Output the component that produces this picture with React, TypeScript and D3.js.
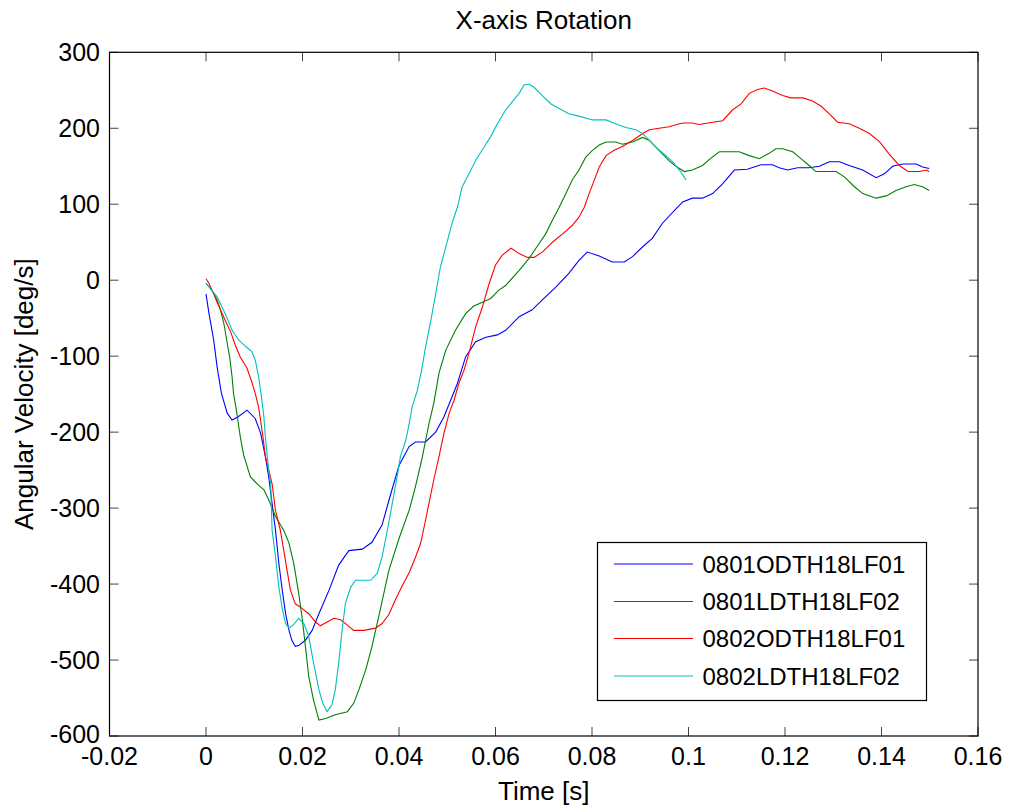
import React from "react";
import * as d3 from "d3";

type Pt = [number, number];

const title = "X-axis Rotation";
const xLabel = "Time [s]";
const yLabel = "Angular Velocity [deg/s]";
const xTicks = [-0.02, 0, 0.02, 0.04, 0.06, 0.08, 0.1, 0.12, 0.14, 0.16];
const yTicks = [-600, -500, -400, -300, -200, -100, 0, 100, 200, 300];
const seriesNames = ["0801ODTH18LF01", "0801LDTH18LF02", "0802ODTH18LF01", "0802LDTH18LF02"];
const seriesColors = ["#0000ff", "#008000", "#ff0000", "#00bfbf"];

const s0801O: Pt[] = [
  [0, -18], [0.0006, -43], [0.0016, -79], [0.0023, -114], [0.0032, -149], [0.0044, -175], [0.0054, -184],
  [0.0066, -180], [0.0085, -171], [0.0102, -182], [0.0113, -201], [0.0123, -232], [0.013, -259], [0.0137, -294],
  [0.0144, -329], [0.0151, -373], [0.0158, -408], [0.0165, -439], [0.0172, -461], [0.0178, -474], [0.0185, -482],
  [0.0192, -481], [0.0206, -474], [0.022, -461], [0.0234, -439], [0.0255, -408], [0.0275, -375], [0.0296, -356],
  [0.0324, -354], [0.0344, -345], [0.0365, -322], [0.0379, -290], [0.04, -244], [0.0421, -219], [0.0434, -213],
  [0.0455, -213], [0.0476, -200], [0.0493, -180], [0.0507, -158], [0.0521, -136], [0.0538, -101], [0.0559, -81],
  [0.058, -75], [0.0604, -72], [0.0621, -66], [0.0649, -48], [0.0676, -39], [0.0697, -26], [0.0725, -9],
  [0.0752, 9], [0.0773, 26], [0.079, 37], [0.0815, 32], [0.0842, 24], [0.0867, 24], [0.0884, 31], [0.0905, 44],
  [0.0925, 55], [0.0946, 75], [0.0974, 94], [0.0988, 103], [0.1008, 108], [0.1029, 108], [0.105, 114],
  [0.1071, 127], [0.1095, 145], [0.1122, 146], [0.115, 152], [0.1174, 152], [0.1188, 148], [0.1205, 145],
  [0.1226, 148], [0.125, 148], [0.1271, 150], [0.1292, 156], [0.1313, 156], [0.1333, 151], [0.1361, 145],
  [0.1389, 135], [0.1406, 140], [0.1423, 150], [0.1444, 153], [0.1472, 153], [0.1485, 149], [0.1499, 147],
];

const s0801L: Pt[] = [
  [0, -4], [0.0012, -13], [0.0023, -26], [0.003, -39], [0.0037, -57], [0.0044, -83], [0.0049, -101],
  [0.0054, -127], [0.0057, -149], [0.0062, -167], [0.0066, -184], [0.0071, -206], [0.0078, -230], [0.0092, -259],
  [0.0106, -268], [0.012, -276], [0.013, -289], [0.0144, -311], [0.0161, -329], [0.0172, -346], [0.0182, -373],
  [0.0192, -412], [0.0199, -443], [0.0206, -482], [0.0213, -522], [0.0223, -553], [0.0234, -579], [0.0248, -577],
  [0.0268, -572], [0.0293, -568], [0.0306, -557], [0.0317, -539], [0.0331, -513], [0.0344, -482], [0.0358, -443],
  [0.0379, -382], [0.04, -340], [0.0421, -303], [0.0434, -272], [0.0448, -234], [0.0462, -189], [0.0472, -162],
  [0.0483, -122], [0.0497, -92], [0.0517, -66], [0.0538, -44], [0.0555, -34], [0.0573, -29], [0.059, -24],
  [0.0607, -13], [0.0621, -7], [0.0649, 13], [0.067, 29], [0.069, 48], [0.0704, 61], [0.0718, 79], [0.0732, 96],
  [0.0746, 114], [0.0759, 132], [0.0773, 145], [0.0787, 162], [0.0801, 171], [0.0815, 178], [0.0829, 182],
  [0.0849, 182], [0.0863, 179], [0.0884, 182], [0.0905, 188], [0.0919, 184], [0.0939, 171], [0.096, 157],
  [0.0974, 150], [0.0991, 143], [0.1008, 145], [0.1029, 151], [0.1047, 161], [0.1064, 169], [0.1105, 169],
  [0.1126, 164], [0.1147, 160], [0.1167, 167], [0.1181, 173], [0.1195, 173], [0.1216, 169], [0.1233, 160],
  [0.125, 151], [0.1264, 143], [0.1306, 143], [0.1323, 136], [0.1344, 123], [0.1361, 114], [0.1389, 108],
  [0.141, 111], [0.143, 118], [0.1451, 123], [0.1468, 126], [0.1485, 123], [0.1499, 118],
];

const s0802O: Pt[] = [
  [0, 2], [0.0006, -4], [0.0016, -18], [0.0023, -29], [0.003, -39], [0.004, -53], [0.0051, -68], [0.0061, -86],
  [0.0071, -101], [0.0085, -116], [0.0095, -134], [0.0102, -149], [0.0109, -167], [0.0113, -184], [0.0118, -206],
  [0.0123, -232], [0.013, -250], [0.0137, -268], [0.0144, -303], [0.0154, -329], [0.0161, -355], [0.0168, -382],
  [0.0175, -408], [0.0185, -426], [0.0199, -432], [0.0213, -439], [0.0227, -450], [0.0237, -455], [0.0251, -450],
  [0.0265, -445], [0.0279, -447], [0.0293, -454], [0.0306, -461], [0.0327, -461], [0.0351, -458], [0.0365, -452],
  [0.0379, -440], [0.0393, -420], [0.0407, -402], [0.0421, -385], [0.0434, -365], [0.0445, -346], [0.0455, -316],
  [0.0462, -294], [0.0472, -263], [0.0483, -232], [0.0493, -202], [0.0504, -175], [0.0514, -158], [0.0524, -136],
  [0.0535, -118], [0.0545, -96], [0.0559, -61], [0.0573, -35], [0.0587, -4], [0.06, 20], [0.0614, 33],
  [0.0632, 42], [0.0649, 35], [0.0666, 30], [0.068, 30], [0.0697, 37], [0.0718, 50], [0.0739, 61], [0.0759, 72],
  [0.0773, 83], [0.0784, 96], [0.0794, 114], [0.0805, 132], [0.0815, 149], [0.0829, 164], [0.0846, 171],
  [0.0863, 176], [0.0884, 184], [0.0905, 193], [0.0919, 198], [0.0939, 200], [0.096, 202], [0.0981, 206],
  [0.0991, 207], [0.1008, 207], [0.1022, 205], [0.105, 208], [0.1071, 210], [0.1091, 224], [0.1109, 232],
  [0.1126, 246], [0.1143, 251], [0.1157, 253], [0.1174, 249], [0.1195, 243], [0.1212, 240], [0.1237, 240],
  [0.1257, 236], [0.1275, 229], [0.1292, 219], [0.1309, 208], [0.1333, 206], [0.1354, 200], [0.1375, 193],
  [0.1396, 182], [0.1416, 166], [0.1437, 151], [0.1455, 143], [0.1479, 143], [0.1493, 145], [0.1499, 143],
];

const s0802L: Pt[] = [
  [0, -4], [0.0009, -11], [0.0023, -22], [0.0033, -35], [0.0044, -50], [0.0054, -66], [0.0068, -79],
  [0.0082, -87], [0.0095, -94], [0.0102, -105], [0.0109, -127], [0.0115, -154], [0.012, -180], [0.0123, -206],
  [0.0127, -232], [0.013, -250], [0.0134, -268], [0.0137, -329], [0.0144, -364], [0.0151, -404], [0.0158, -432],
  [0.0165, -452], [0.0172, -458], [0.0182, -453], [0.0192, -445], [0.0203, -452], [0.0213, -469], [0.0223, -504],
  [0.0234, -539], [0.0242, -557], [0.0251, -568], [0.0261, -559], [0.0268, -539], [0.0275, -504], [0.0282, -461],
  [0.0289, -425], [0.03, -404], [0.031, -395], [0.0341, -395], [0.0355, -386], [0.0365, -364], [0.0376, -329],
  [0.0386, -294], [0.0396, -259], [0.0403, -232], [0.0414, -211], [0.0421, -189], [0.0427, -167], [0.0438, -145],
  [0.0447, -118], [0.0455, -88], [0.0466, -53], [0.0476, -18], [0.0486, 18], [0.0497, 44], [0.051, 75],
  [0.0521, 96], [0.0531, 123], [0.0545, 140], [0.0559, 158], [0.0576, 175], [0.059, 189], [0.0604, 206],
  [0.0621, 224], [0.0635, 235], [0.0649, 246], [0.0659, 257], [0.067, 258], [0.068, 254], [0.0697, 243],
  [0.0715, 232], [0.0732, 226], [0.0752, 219], [0.0773, 216], [0.0801, 211], [0.0829, 211], [0.0849, 206],
  [0.087, 201], [0.0891, 198], [0.0905, 193], [0.0919, 184], [0.0936, 173], [0.0953, 164], [0.0967, 156],
  [0.0981, 145], [0.0995, 132],
];

const seriesData = [s0801O, s0801L, s0802O, s0802L];

const W = 1012;
const H = 810;
const FONT = "Arial, 'Liberation Sans', Helvetica, sans-serif";

export default function App() {
  const x = d3.scaleLinear().domain([-0.02, 0.16]).range([109.5, 978]);
  const y = d3.scaleLinear().domain([-600, 300]).range([736, 52.3]);
  const line = d3
    .line<Pt>()
    .x((d) => x(d[0]))
    .y((d) => y(d[1]));
  const [x0, x1] = x.range();
  const [y0, y1] = y.range();
  const tick = 9;
  const fs = 25;
  const lblFs = 26;
  const lfs = 24;
  const leg = { x: 597.5, y: 542.5, w: 329, h: 158 };
  const rowY = [564, 601.5, 638.5, 676];

  return (
    <svg
      width={W}
      height={H}
      style={{ position: "absolute", left: 0, top: 0, background: "#fff" }}
      fontFamily={FONT}
    >
      <rect x={0} y={0} width={W} height={H} fill="#fff" />
      <defs>
        <clipPath id="plotclip">
          <rect x={x0} y={y1} width={x1 - x0} height={y0 - y1} />
        </clipPath>
      </defs>
      <g clipPath="url(#plotclip)">
        {seriesData.map((d, i) => (
          <path key={i} d={line(d) || ""} fill="none" stroke={seriesColors[i]} strokeWidth={1.1} />
        ))}
      </g>
      {xTicks.map((t, i) => (
        <g key={"xt" + i}>
          <line x1={x(t)} x2={x(t)} y1={y0} y2={y0 - tick} stroke="#444" strokeWidth={1} />
          <line x1={x(t)} x2={x(t)} y1={y1} y2={y1 + tick} stroke="#444" strokeWidth={1} />
          <text x={x(t)} y={765} textAnchor="middle" fontSize={fs} fill="#000">
            {t === 0 ? "0" : String(t)}
          </text>
        </g>
      ))}
      {yTicks.map((t, i) => (
        <g key={"yt" + i}>
          <line x1={x0} x2={x0 + tick} y1={y(t)} y2={y(t)} stroke="#444" strokeWidth={1} />
          <line x1={x1} x2={x1 - tick} y1={y(t)} y2={y(t)} stroke="#444" strokeWidth={1} />
          <text x={100} y={y(t) - (t === -600 ? 2 : 0)} dy="0.36em" textAnchor="end" fontSize={fs} fill="#000">
            {String(t)}
          </text>
        </g>
      ))}
      <rect x={x0} y={y1} width={x1 - x0} height={y0 - y1} fill="none" stroke="#000" strokeWidth={1.2} />
      <text x={(x0 + x1) / 2} y={29} textAnchor="middle" fontSize={lblFs} fill="#000">
        {title}
      </text>
      <text x={(x0 + x1) / 2} y={800} textAnchor="middle" fontSize={lblFs} fill="#000">
        {xLabel}
      </text>
      <text
        transform={`translate(33,${(y0 + y1) / 2}) rotate(-90)`}
        textAnchor="middle"
        fontSize={lblFs}
        fill="#000"
      >
        {yLabel}
      </text>
      <rect x={leg.x} y={leg.y} width={leg.w} height={leg.h} fill="#fff" stroke="#000" strokeWidth={1.2} />
      {seriesNames.map((n, i) => (
        <g key={"lg" + i}>
          <line x1={614} x2={693} y1={rowY[i]} y2={rowY[i]} stroke={seriesColors[i]} strokeWidth={1.1} />
          <text x={702.5} y={rowY[i]} dy="0.36em" fontSize={lfs} fill="#000">
            {n}
          </text>
        </g>
      ))}
    </svg>
  );
}
